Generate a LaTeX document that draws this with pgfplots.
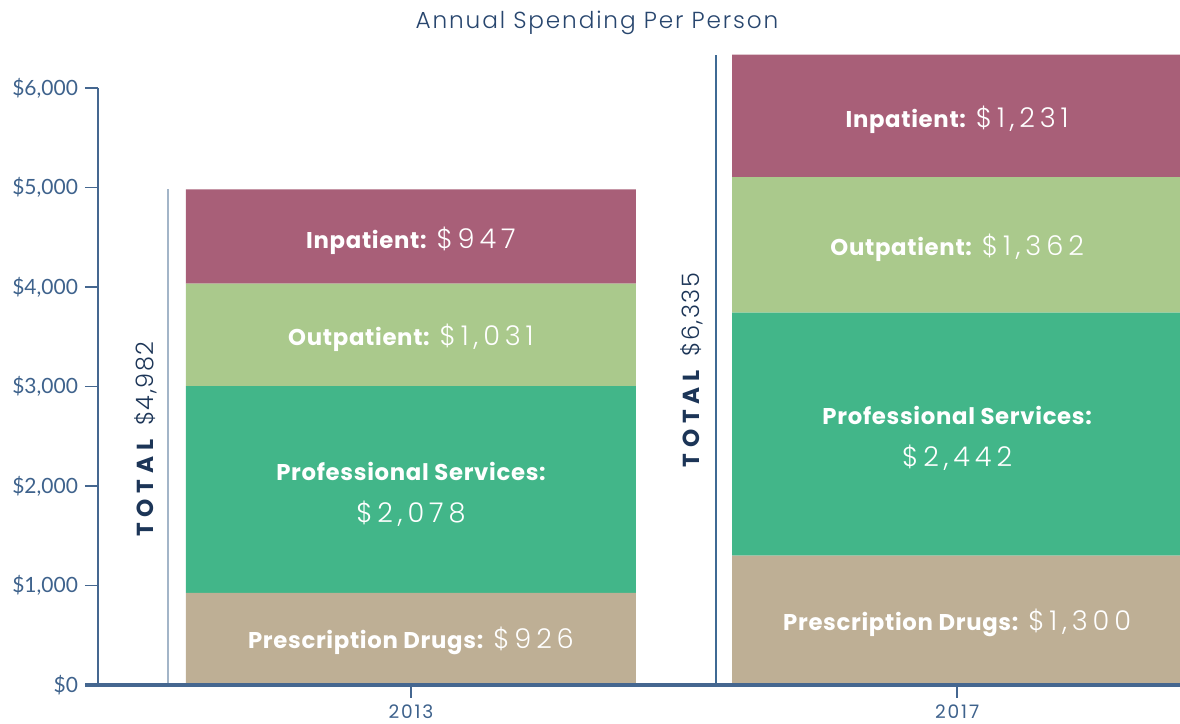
\documentclass[border=0pt]{standalone}
\usepackage{fontspec}
\usepackage{pgfplots}
\pgfplotsset{compat=1.18}
\setmainfont{Poppins}
\newfontfamily\lightfont{Poppins Light}[LetterSpace=18]
\newfontfamily\totvalfont{Poppins Light}[LetterSpace=6]
\newfontfamily\titlefont{Poppins Light}[LetterSpace=8]
\newfontfamily\boldfont{Poppins Bold}[LetterSpace=3]
\newfontfamily\totfont{Poppins Bold}[LetterSpace=25]
\newfontfamily\tickfont{Lato}
\newfontfamily\xtickfont{Poppins}[LetterSpace=10]
\definecolor{cdrug}{RGB}{190,175,149}
\definecolor{cprof}{RGB}{66,182,137}
\definecolor{cout}{RGB}{170,201,140}
\definecolor{cinp}{RGB}{168,95,120}
\definecolor{axiscol}{RGB}{69,103,144}
\definecolor{tickcol}{RGB}{62,98,140}
\definecolor{navy}{RGB}{28,53,87}
\definecolor{titlecol}{RGB}{40,70,110}
\definecolor{brA}{RGB}{163,181,200}
\definecolor{brB}{RGB}{63,106,148}
\tikzset{seglab/.style={text=white, anchor=center, inner sep=0pt}}
\newcommand\lab[1]{{\boldfont\fontsize{11.4}{13}\selectfont #1}}
\newcommand\val[1]{{\lightfont\fontsize{13.6}{15}\selectfont #1}}
\begin{document}
\begin{tikzpicture}[x=1pt,y=1pt]
\useasboundingbox (0,0) rectangle (590,362);
\begin{axis}[
  at={(49pt,19.5pt)}, anchor=south west,
  scale only axis, width=541pt, height=298.5pt,
  xmin=-0.573, xmax=1.408, ymin=0, ymax=6000,
  clip=false,
  ybar stacked, bar width=225pt,
  axis x line*=bottom, axis y line*=left,
  x axis line style={draw=none},
  y axis line style={axiscol, line width=0.75pt},
  xtick={0,1}, xticklabels={2013,2017},
  ytick={0,1000,2000,3000,4000,5000,6000},
  yticklabels={{\$0},{\$1,000},{\$2,000},{\$3,000},{\$4,000},{\$5,000},{\$6,000}},
  tick align=outside, major tick length=6.5pt,
  tick style={color=axiscol, line width=0.75pt},
  yticklabel style={font=\tickfont\fontsize{10.5}{12}\selectfont, text=tickcol},
  xticklabel style={font=\xtickfont\fontsize{9.3}{10}\selectfont, text=tickcol, yshift=0pt},
]
\addplot[fill=cdrug, draw=none] coordinates {(0,926) (1,1300)};
\addplot[fill=cprof, draw=none] coordinates {(0,2078) (1,2442)};
\addplot[fill=cout, draw=none] coordinates {(0,1031) (1,1362)};
\addplot[fill=cinp, draw=none] coordinates {(0,947) (1,1231)};
\end{axis}
\begin{axis}[
  at={(49pt,19.5pt)}, anchor=south west,
  scale only axis, width=541pt, height=298.5pt,
  xmin=-0.573, xmax=1.408, ymin=0, ymax=6000,
  clip=false, hide axis,
]
\addplot[brA, line width=1pt] coordinates {(-0.445,0) (-0.445,4982)};
\addplot[brB, line width=1pt] coordinates {(0.5586,0) (0.5586,6335)};
\addplot[axiscol, line width=2pt] coordinates {(-0.5968,0) (1.408,0)};
\node[rotate=90, text=navy, anchor=center] at (axis cs:-0.485,2470) {{\totfont\fontsize{11.6}{12}\selectfont TOTAL}\hspace{7pt}{\totvalfont\fontsize{12}{13}\selectfont\$4,982}};
\node[rotate=90, text=navy, anchor=center] at (axis cs:0.5147,3165) {{\totfont\fontsize{11.6}{12}\selectfont TOTAL}\hspace{7pt}{\totvalfont\fontsize{12}{13}\selectfont\$6,335}};
\node[seglab] at (axis cs:0,440) {\lab{Prescription Drugs:}\hspace{5pt}\val{\$926}};
\node[seglab, align=center] at (axis cs:0,1920) {\lab{Professional Services:}\\[9pt]\val{\$2,078}};
\node[seglab] at (axis cs:0,3490) {\lab{Outpatient:}\hspace{5pt}\val{\$1,031}};
\node[seglab] at (axis cs:0,4460) {\lab{Inpatient:}\hspace{5pt}\val{\$947}};
\node[seglab] at (axis cs:1,625) {\lab{Prescription Drugs:}\hspace{5pt}\val{\$1,300}};
\node[seglab, align=center] at (axis cs:1,2480) {\lab{Professional Services:}\\[9pt]\val{\$2,442}};
\node[seglab] at (axis cs:1,4395) {\lab{Outpatient:}\hspace{5pt}\val{\$1,362}};
\node[seglab] at (axis cs:1,5680) {\lab{Inpatient:}\hspace{5pt}\val{\$1,231}};
\end{axis}
\node[text=titlecol, anchor=center] at (298.5,350.5) {\titlefont\fontsize{11.6}{12}\selectfont Annual Spending Per Person};
\end{tikzpicture}
\end{document}
